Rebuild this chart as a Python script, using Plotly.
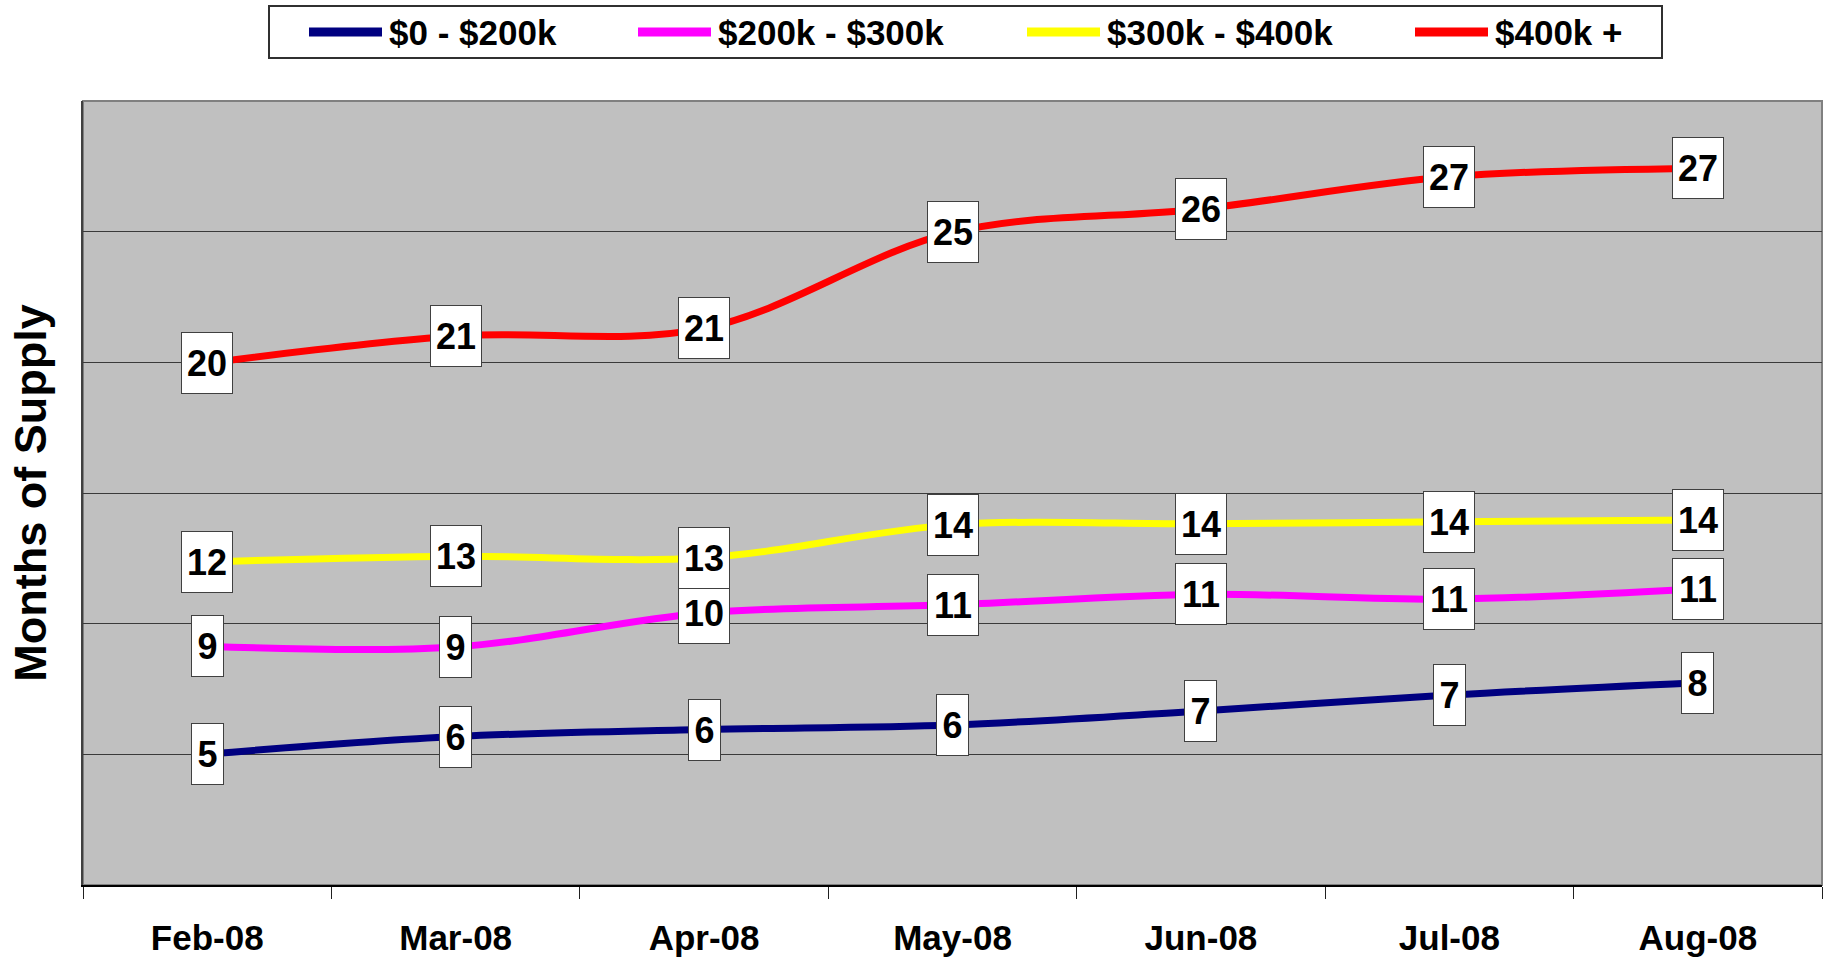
import plotly.graph_objects as go

# ---- data ----
months = ["Feb-08", "Mar-08", "Apr-08", "May-08", "Jun-08", "Jul-08", "Aug-08"]
s_0_200 = [5.01, 5.68, 5.95, 6.12, 6.66, 7.27, 7.74]
s_200_300 = [9.14, 9.11, 10.41, 10.72, 11.12, 10.94, 11.34]
s_300_400 = [12.36, 12.58, 12.52, 13.78, 13.82, 13.90, 13.97]
s_400_plus = [19.97, 21.01, 21.30, 24.97, 25.87, 27.10, 27.42]
series_names = ["$0 - $200k", "$200k - $300k", "$300k - $400k", "$400k +"]
series_values = [s_0_200, s_200_300, s_300_400, s_400_plus]
colors = ["#000080", "#FF00FF", "#FFFF00", "#FF0000"]

# ---- layout geometry ----
W, H = 1826, 960
ML, MR, MT, MB = 83, 4, 101, 75
PW, PH = W - ML - MR, H - MT - MB
FONT = "Arial, Liberation Sans, Helvetica, sans-serif"


def px_x(px):
    return (px - ML) / PW


def px_y(py):
    return (H - MB - py) / PH


fig = go.Figure()
for name, vals, col in zip(series_names, series_values, colors):
    fig.add_trace(go.Scatter(
        x=months, y=vals, name=name, mode="lines",
        line=dict(color=col, width=7, shape="spline", smoothing=1),
        showlegend=False, hoverinfo="x+y+name",
    ))

annotations = []
# data labels
for vals in series_values:
    for m, v in zip(months, vals):
        txt = f"{v:.0f}"
        annotations.append(dict(
            x=m, y=v, xref="x", yref="y", text=f"<b>{txt}</b>",
            showarrow=False, xanchor="center", yanchor="middle",
            font=dict(family=FONT, size=36, color="black"),
            bgcolor="white", bordercolor="#404040", borderwidth=1,
            borderpad=0, width=12 + 19 * len(txt), height=60,
        ))

# custom legend
shapes = []
leg_x0, leg_x1, leg_top, leg_bot = 269, 1662, 6, 58
shapes.append(dict(type="rect", xref="paper", yref="paper",
                   x0=px_x(leg_x0), x1=px_x(leg_x1), y0=px_y(leg_bot), y1=px_y(leg_top),
                   line=dict(color="#303030", width=2), fillcolor="white", layer="above"))
swatch_starts = [309, 638, 1027, 1415]
leg_cy = 32
for name, col, sx in zip(series_names, colors, swatch_starts):
    shapes.append(dict(type="line", xref="paper", yref="paper",
                       x0=px_x(sx), x1=px_x(sx + 73), y0=px_y(leg_cy), y1=px_y(leg_cy),
                       line=dict(color=col, width=9), layer="above"))
    annotations.append(dict(
        x=px_x(sx + 78), y=px_y(leg_cy), xref="paper", yref="paper",
        text=f"<b>{name}</b>", showarrow=False, xanchor="left", yanchor="middle",
        font=dict(family=FONT, size=35, color="black"),
    ))

# plot frame (top/right grey)
shapes.append(dict(type="rect", xref="paper", yref="paper", x0=0, x1=1, y0=0, y1=1,
                   line=dict(color="#808080", width=2), layer="below"))

fig.update_layout(
    width=W, height=H,
    margin=dict(l=ML, r=MR, t=MT, b=MB, autoexpand=False),
    paper_bgcolor="white", plot_bgcolor="#C0C0C0",
    font=dict(family=FONT, color="black"),
    showlegend=False,
    annotations=annotations, shapes=shapes,
    xaxis=dict(
        type="category", range=[-0.5, 6.5], tickson="boundaries",
        ticks="outside", ticklen=12, tickcolor="#202020", tickwidth=1,
        showline=True, linecolor="black", linewidth=2, showgrid=False,
        tickfont=dict(family=FONT, size=35, color="black", weight="bold"),
        ticklabelstandoff=21, fixedrange=True,
    ),
    yaxis=dict(
        range=[0, 30], dtick=5, showticklabels=False, ticks="",
        showgrid=True, gridcolor="#3a3a3a", gridwidth=1, zeroline=False,
        showline=True, linecolor="#404040", linewidth=2,
        title=dict(text="<b>Months of Supply</b>", standoff=20,
                   font=dict(family=FONT, size=45, color="black")),
        fixedrange=True,
    ),
)

fig.write_html(
    "out.html",
    config={"displayModeBar": False},
    post_script="document.body.style.margin='0';document.body.style.overflow='hidden';",
)
